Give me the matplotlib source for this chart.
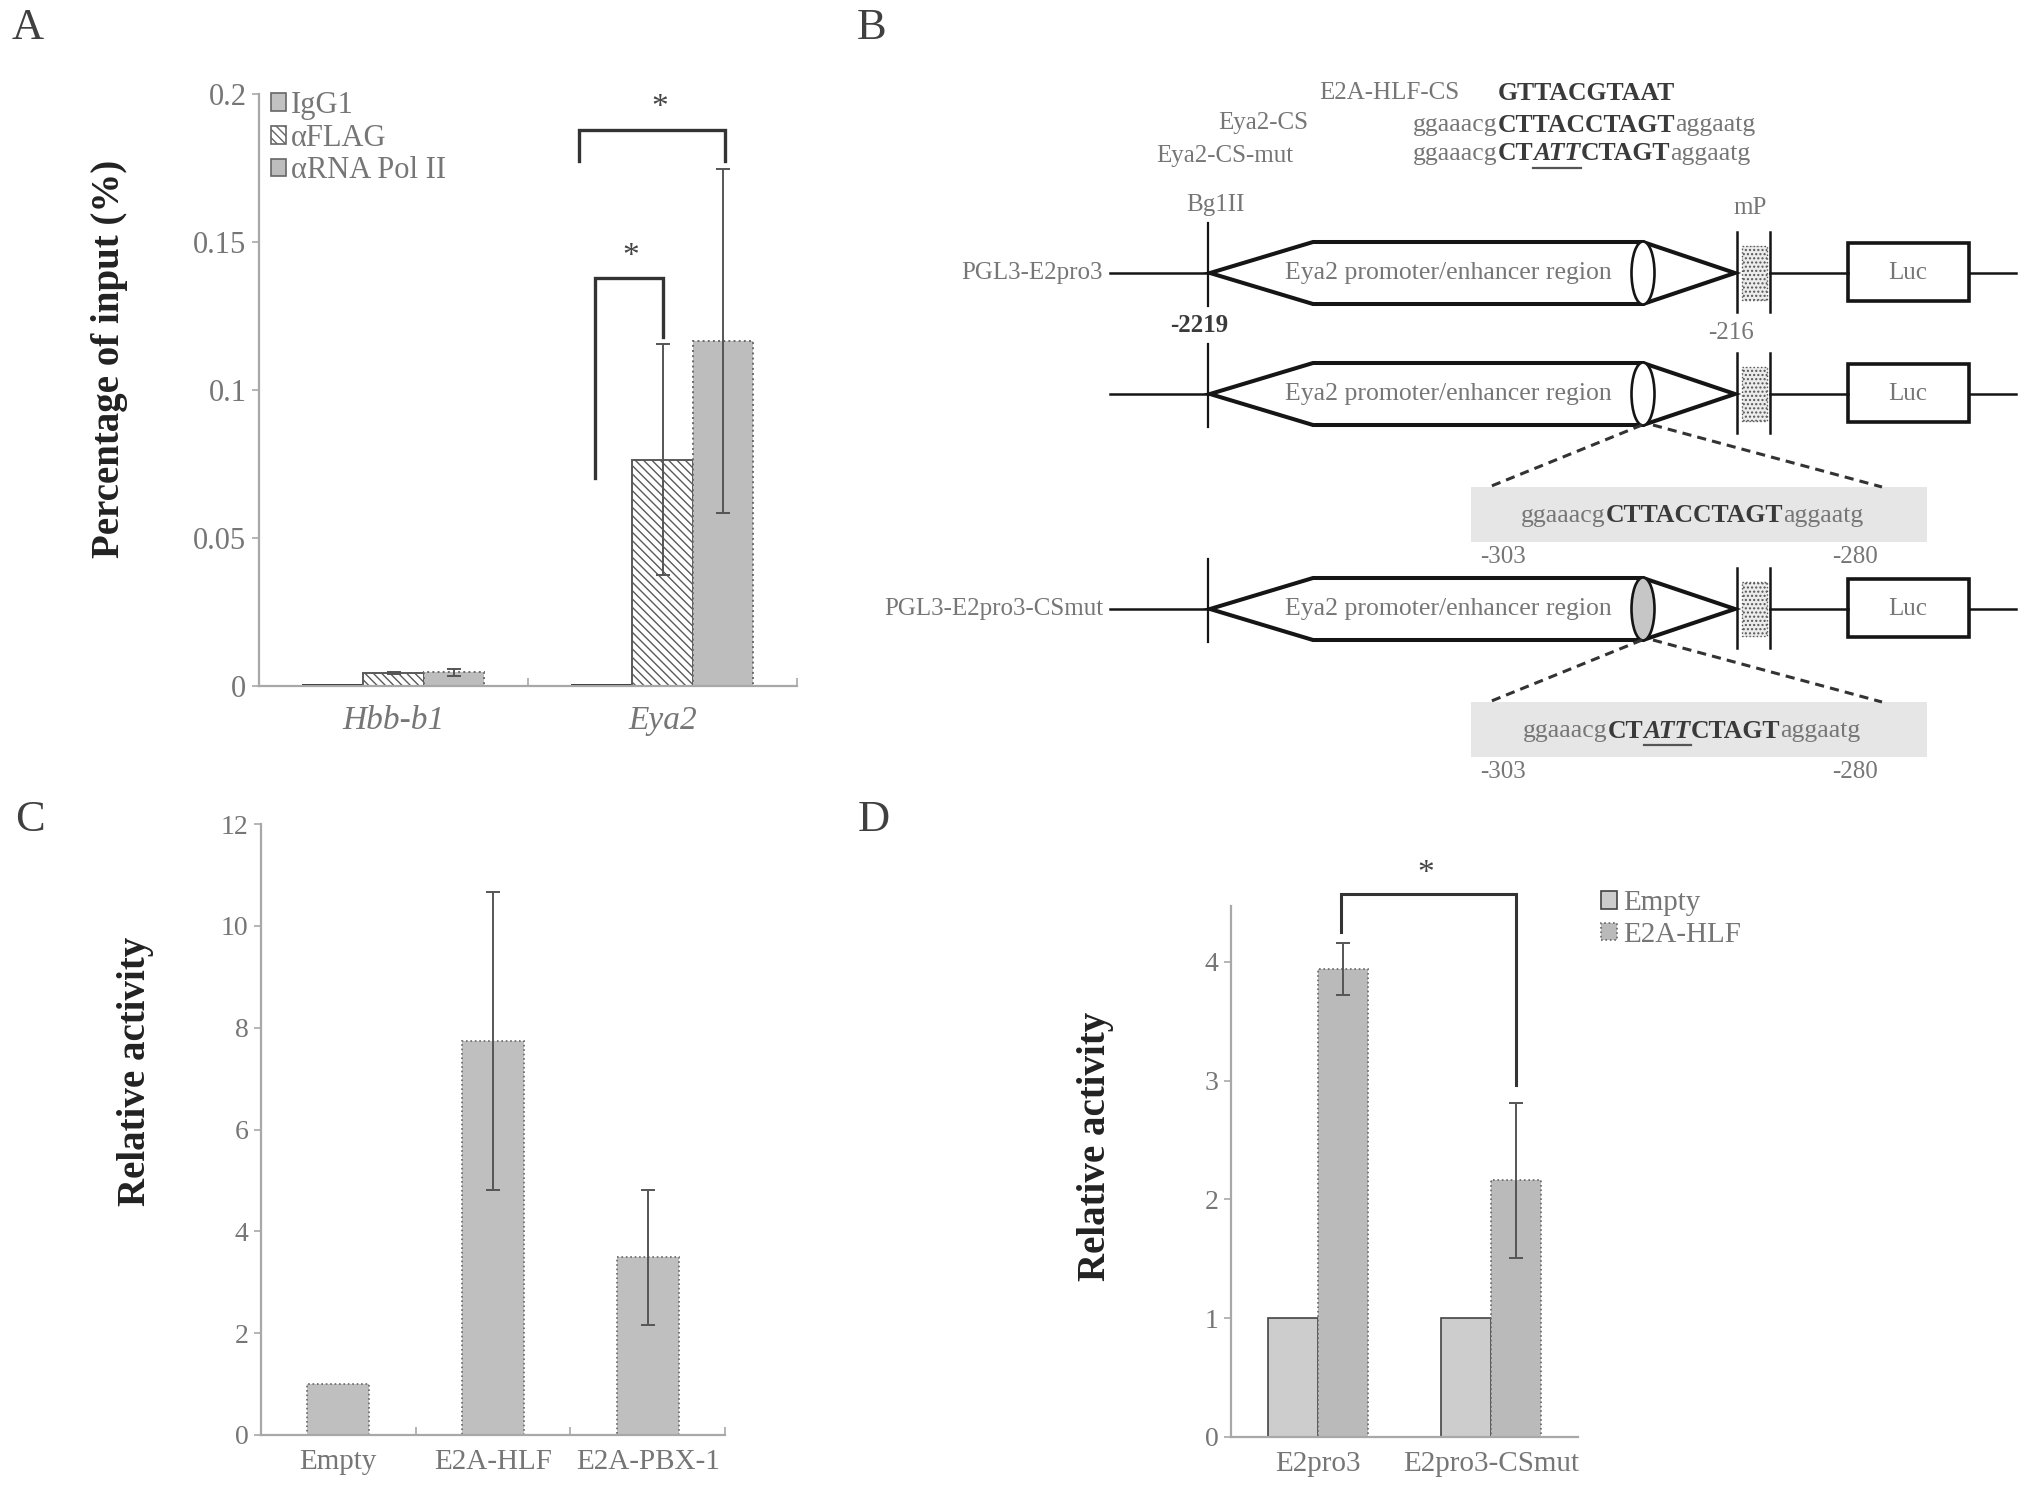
import matplotlib
matplotlib.use('Agg')
import matplotlib.pyplot as plt
from matplotlib.patches import Polygon, Ellipse, Rectangle, Patch
import numpy as np

plt.rcParams['font.family'] = ['Liberation Serif', 'DejaVu Serif']
plt.rcParams['hatch.linewidth'] = 1.0

# ---------------- data ----------------
# panel A : ChIP
a_genes = ['Hbb-b1', 'Eya2']
a_series = ['IgG1', '\u03b1FLAG', '\u03b1RNA Pol II']
a_vals = [[0.0005, 0.0005],
          [0.0043, 0.0765],
          [0.0046, 0.1165]]
a_errs = [[0.0, 0.0],
          [0.0003, 0.039],
          [0.0012, 0.058]]
a_yticks = [0, 0.05, 0.1, 0.15, 0.2]
a_yticklabels = ['0', '0.05', '0.1', '0.15', '0.2']
# brackets: x left, x right, y left, y top, y right, star x, star y
a_brackets = [(0.749, 1.0, 0.0702, 0.138, 0.118, 0.883, 0.145),
              (0.689, 1.234, 0.1775, 0.188, 0.1775, 0.99, 0.1955)]

# panel C : luciferase
c_groups = ['Empty', 'E2A-HLF', 'E2A-PBX-1']
c_vals = [1.01, 7.74, 3.49]
c_errs = [0.0, 2.93, 1.33]
c_yticks = [0, 2, 4, 6, 8, 10, 12]

# panel D : luciferase, wt vs mut
d_groups = ['E2pro3', 'E2pro3-CSmut']
d_series = ['Empty', 'E2A-HLF']
d_empty = [1.0, 1.0]
d_hlf = [3.94, 2.16]
d_hlf_err = [0.22, 0.65]
d_yticks = [0, 1, 2, 3, 4]
d_bracket = (0.135, 1.14, 4.25, 4.57, 2.96, 0.62, 4.74)

# panel B : construct diagram texts
b_rows = ['PGL3-E2pro3', '', 'PGL3-E2pro3-CSmut']
b_region = 'Eya2 promoter/enhancer region'
cs_consensus = 'GTTACGTAAT'
seq_wt = [('ggaaacg', 'n'), ('CTTACCTAGT', 'b'), ('aggaatg', 'n')]
seq_mut = [('ggaaacg', 'n'), ('CT', 'b'), ('ATT', 'bi'), ('CTAGT', 'b'), ('aggaatg', 'n')]

# ---------------- figure ----------------
W, H = 2031, 1488
fig = plt.figure(figsize=(W / 100, H / 100), dpi=100)

TXT = '#767676'
DARK = '#3a3a3a'
AXC = '#a8a8a8'
LINE = '#151515'


def px_axes(l, t, r, b):
    return fig.add_axes([l / W, 1 - b / H, (r - l) / W, (b - t) / H])


def style(ax, xsize=21):
    for s in ['top', 'right']:
        ax.spines[s].set_visible(False)
    for s in ['left', 'bottom']:
        ax.spines[s].set_color(AXC)
        ax.spines[s].set_linewidth(1.6)
    ax.tick_params(axis='y', colors=AXC, labelcolor=TXT, labelsize=20,
                   length=5, width=1.2, direction='out', pad=4)
    ax.tick_params(axis='x', which='major', length=0, labelcolor=TXT,
                   labelsize=xsize)
    ax.tick_params(axis='x', which='minor', colors=AXC, length=6,
                   width=1.2, direction='in')


def bracket(ax, br, lw=2.2):
    xl, xr, yl, yt, yr, sx, sy = br
    ax.plot([xl, xl, xr, xr], [yl, yt, yt, yr], color='#333333', lw=lw,
            clip_on=False, solid_joinstyle='miter')
    ax.text(sx, sy, '*', ha='center', va='center', fontsize=24,
            color='#444444', clip_on=False)


# overlay axes in pixel coordinates for panel letters and diagram B
ax_b = fig.add_axes([0, 0, 1, 1])
ax_b.set_xlim(0, W)
ax_b.set_ylim(H, 0)
ax_b.axis('off')
ax_b.patch.set_visible(False)

for lab, (x, y) in zip(['A', 'B', 'C', 'D'],
                       [(28, 28), (872, 28), (30, 820), (874, 820)]):
    ax_b.text(x, y, lab, fontsize=32, color='#404040', ha='center', va='center')

# ---------------- panel A ----------------
axA = px_axes(259, 94, 797, 686)
bw = 0.224
xs = np.arange(len(a_genes))
a_faces = ['#c2c2c2', 'white', '#bdbdbd']
a_hatch = [None, '\\\\\\\\', None]
a_edges = ['#333333', '#5a5a5a', '#6a6a6a']
a_ls = ['-', '-', ':']
for i, name in enumerate(a_series):
    pos = xs + (i - 1) * bw
    axA.bar(pos, a_vals[i], bw, color=a_faces[i], edgecolor=a_edges[i],
            hatch=a_hatch[i], linewidth=1.4, linestyle=a_ls[i], zorder=2)
    errs = np.array(a_errs[i])
    m = errs > 0
    axA.errorbar(pos[m], np.array(a_vals[i])[m], yerr=errs[m], fmt='none',
                 ecolor='#555555', elinewidth=1.4, capsize=5, capthick=1.4, zorder=3)
axA.set_xlim(-0.5, 1.5)
axA.set_ylim(0, 0.2)
axA.set_yticks(a_yticks)
axA.set_yticklabels(a_yticklabels)
axA.set_xticks(xs)
axA.set_xticklabels(a_genes, style='italic')
axA.set_xticks([0.5, 1.5], minor=True)
style(axA, xsize=24)
axA.tick_params(axis='y', labelsize=22)
axA.tick_params(axis='x', which='major', pad=14)
for br in a_brackets:
    bracket(axA, br, lw=2.4)
handlesA = [Patch(facecolor=a_faces[i], edgecolor='#666666', hatch=a_hatch[i],
                  linewidth=1.2) for i in range(3)]
legA = axA.legend(handlesA, a_series, loc='upper left',
                  bbox_to_anchor=(0.022, 1.005), frameon=False, fontsize=22,
                  handlelength=0.5, handleheight=0.5, handletextpad=0.15,
                  labelspacing=0.12, borderaxespad=0, borderpad=0)
for t in legA.get_texts():
    t.set_color(TXT)
fig.text(110 / W, 1 - 359 / H, 'Percentage of input (%)', rotation=90,
         ha='center', va='center', fontsize=28, fontweight='bold', color='#222222')

# ---------------- panel C ----------------
axC = px_axes(261, 824, 725, 1435)
xc = np.arange(len(c_groups))
axC.bar(xc, c_vals, 0.4, color='#bfbfbf', edgecolor='#666666', linewidth=1.2,
        linestyle=':', zorder=2)
m = np.array(c_errs) > 0
axC.errorbar(xc[m], np.array(c_vals)[m], yerr=np.array(c_errs)[m], fmt='none',
             ecolor='#555555', elinewidth=1.4, capsize=5, capthick=1.4, zorder=3)
axC.set_xlim(-0.5, 2.5)
axC.set_ylim(0, 12)
axC.set_yticks(c_yticks)
axC.set_xticks(xc)
axC.set_xticklabels(c_groups)
axC.set_xticks([0.5, 1.5, 2.5], minor=True)
style(axC)
axC.tick_params(axis='x', which='major', pad=10)
fig.text(136 / W, 1 - 1071 / H, 'Relative activity', rotation=90,
         ha='center', va='center', fontsize=28, fontweight='bold', color='#222222')

# ---------------- panel D ----------------
axD = px_axes(1231, 906, 1578, 1437)
xd = np.arange(len(d_groups))
dw = 0.287
axD.bar(xd - dw / 2, d_empty, dw, color='#cdcdcd', edgecolor='#444444',
        linewidth=1.2, zorder=2, label=d_series[0])
axD.bar(xd + dw / 2, d_hlf, dw, color='#bababa', edgecolor='#666666',
        linewidth=1.2, linestyle=':', zorder=2, label=d_series[1])
axD.errorbar(xd + dw / 2, d_hlf, yerr=d_hlf_err, fmt='none', ecolor='#555555',
             elinewidth=1.4, capsize=5, capthick=1.4, zorder=3)
axD.set_xlim(-0.5, 1.5)
axD.set_ylim(0, 4.47)
axD.set_yticks(d_yticks)
axD.set_xticks(xd)
axD.set_xticklabels(d_groups)
style(axD)
axD.tick_params(axis='x', which='major', pad=10)
bracket(axD, d_bracket, lw=2.2)
legD = axD.legend(loc='upper left', bbox_to_anchor=(1.066, 1.03), frameon=False,
                  fontsize=21, handlelength=0.55, handleheight=0.55,
                  handletextpad=0.2, labelspacing=0.2, borderaxespad=0, borderpad=0)
for t in legD.get_texts():
    t.set_color(TXT)
fig.text(1096 / W, 1 - 1146 / H, 'Relative activity', rotation=90,
         ha='center', va='center', fontsize=28, fontweight='bold', color='#222222')

# ---------------- panel B : diagram ----------------
renderer = fig.canvas.get_renderer()
STY = {'n': dict(color=TXT),
       'b': dict(color=DARK, fontweight='bold'),
       'bi': dict(color=DARK, fontweight='bold', style='italic')}


def mixed(x, y, parts, size=18.5, center=False):
    arts = [ax_b.text(0, y, s, fontsize=size, ha='left', va='center', **STY[k])
            for s, k in parts]
    widths = []
    for t in arts:
        bb = t.get_window_extent(renderer)
        widths.append(bb.width)
    x0 = x - sum(widths) / 2 if center else x
    for t, w, (s, k) in zip(arts, widths, parts):
        t.set_x(x0)
        if k == 'bi':
            ax_b.plot([x0, x0 + w], [y + 14, y + 14], color='#555555', lw=1.6)
        x0 += w


ax_b.text(1389, 93, 'E2A-HLF-CS', fontsize=18, color=TXT, ha='center', va='center')
ax_b.text(1498, 93, cs_consensus, fontsize=18.5, color=DARK, fontweight='bold',
          ha='left', va='center')
ax_b.text(1263, 123, 'Eya2-CS', fontsize=18, color=TXT, ha='center', va='center')
ax_b.text(1225, 156, 'Eya2-CS-mut', fontsize=18, color=TXT, ha='center', va='center')
mixed(1413, 125, seq_wt)
mixed(1413, 154, seq_mut)
ax_b.text(1215, 205, 'Bg1II', fontsize=18, color=TXT, ha='center', va='center')
ax_b.text(1750, 208, 'mP', fontsize=18, color=TXT, ha='center', va='center')
ax_b.text(1199, 326, '-2219', fontsize=18, color=DARK, fontweight='bold',
          ha='center', va='center')
ax_b.text(1731, 333, '-216', fontsize=18, color=TXT, ha='center', va='center')

row_y = [273, 394, 609]
ell_face = ['white', 'white', '#c6c6c6']
for y, lab, ef in zip(row_y, b_rows, ell_face):
    if lab:
        ax_b.text(1103, y, lab, fontsize=18, color=TXT, ha='right', va='center')
    ax_b.plot([1110, 1208], [y, y], color=LINE, lw=1.8)
    ax_b.plot([1208, 1208], [y - 50, y + 33], color=LINE, lw=1.6)
    hexa = Polygon([(1210, y), (1313, y - 31), (1643, y - 31), (1735, y),
                    (1643, y + 31), (1313, y + 31)], closed=True,
                   facecolor='white', edgecolor=LINE, lw=2.9, joinstyle='miter')
    ax_b.add_patch(hexa)
    ax_b.add_patch(Ellipse((1643, y), 23, 63, facecolor=ef, edgecolor=LINE, lw=1.9))
    ax_b.text(1448, y, b_region, fontsize=18.5, color=TXT, ha='center', va='center')
    ax_b.plot([1737, 1737], [y - 41, y + 39], color=LINE, lw=1.8)
    ax_b.plot([1770, 1770], [y - 41, y + 39], color=LINE, lw=1.8)
    ax_b.add_patch(Rectangle((1742, y - 27), 25, 54, facecolor='#ececec',
                             edgecolor='#555555', lw=1.0, linestyle=':',
                             hatch='....'))
    ax_b.plot([1770, 1848], [y, y], color=LINE, lw=1.8)
    ax_b.add_patch(Rectangle((1848, y - 30), 121, 58, facecolor='white',
                             edgecolor=LINE, lw=2.6))
    ax_b.text(1908, y, 'Luc', fontsize=18, color=TXT, ha='center', va='center')
    ax_b.plot([1969, 2016], [y, y], color=LINE, lw=1.8)

for y, seq in zip([394, 609], [seq_wt, seq_mut]):
    top = y + 93
    ax_b.plot([1642, 1489], [y + 31, top], color='#333333', lw=2.2,
              linestyle=(0, (3, 2)))
    ax_b.plot([1653, 1882], [y + 31, top], color='#333333', lw=2.2,
              linestyle=(0, (3, 2)))
    ax_b.add_patch(Rectangle((1471, top), 456, 55, facecolor='#e6e6e6',
                             edgecolor='none'))
    mixed(1692, top + 29, seq, center=True)
    ax_b.text(1503, top + 70, '-303', fontsize=18, color=TXT, ha='center', va='center')
    ax_b.text(1855, top + 70, '-280', fontsize=18, color=TXT, ha='center', va='center')

fig.savefig('out.png', dpi=100)
